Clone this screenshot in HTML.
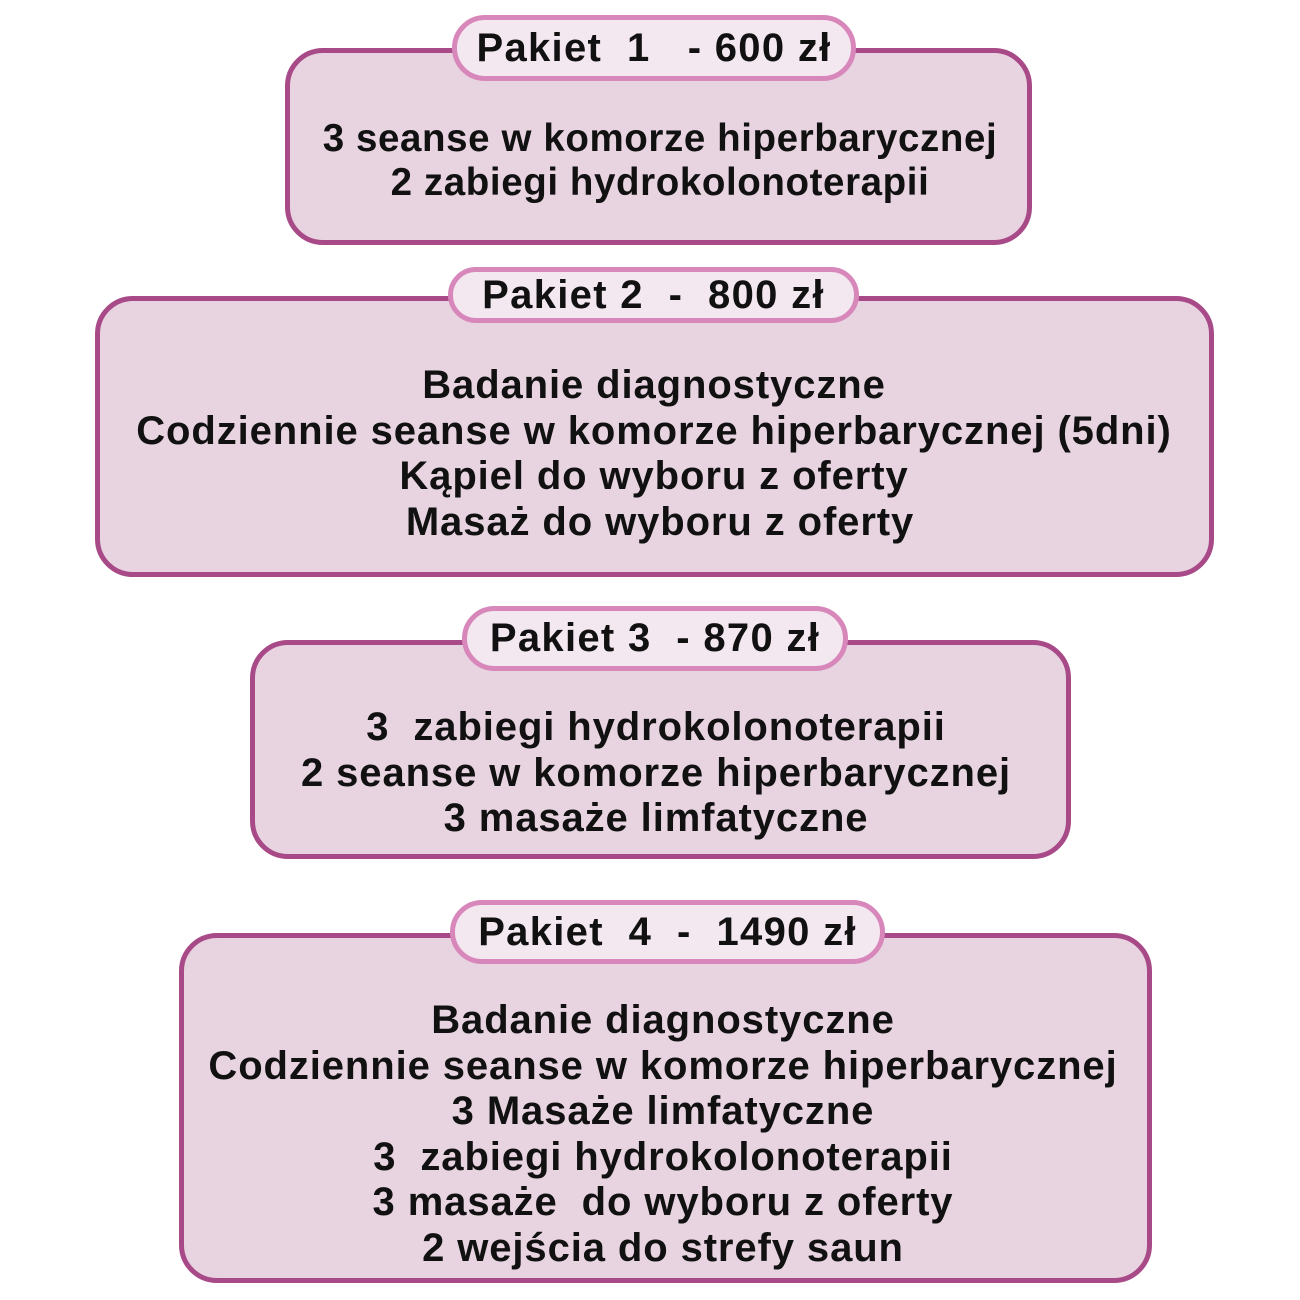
<!DOCTYPE html>
<html><head><meta charset="utf-8"><style>
body{margin:0;width:1300px;height:1300px;background:#fff;position:relative;font-family:"Liberation Sans",sans-serif;font-weight:bold;color:#111;overflow:hidden}
.box{position:absolute;box-sizing:border-box;background:#e8d4e1;border:5px solid #a84a88;border-radius:38px}
.pill{position:absolute;box-sizing:border-box;background:#f3e7f0;border:5px solid #d887bb;border-radius:34px;font-size:40px;letter-spacing:1.3px;text-align:center;display:flex;align-items:center;justify-content:center;white-space:pre}
.t{position:absolute;left:0;width:1300px;text-align:center;font-size:40px;letter-spacing:0.9px;line-height:45.5px;white-space:pre}
</style></head><body>
<div class="box" style="left:285px;top:48px;width:747px;height:197px"></div>
<div class="pill" style="left:452px;top:15px;width:404px;height:66px">Pakiet  1   - 600 zł</div>
<div class="t" style="left:10px;top:117px;font-size:38.5px;letter-spacing:0.6px;line-height:44px">3 seanse w komorze hiperbarycznej
2 zabiegi hydrokolonoterapii</div>

<div class="box" style="left:95px;top:296px;width:1119px;height:281px"></div>
<div class="pill" style="left:448px;top:267px;width:411px;height:56px">Pakiet 2  -  800 zł</div>
<div class="t" style="left:4px;top:363px">Badanie diagnostyczne
Codziennie seanse w komorze hiperbarycznej (5dni)
Kąpiel do wyboru z oferty
 Masaż do wyboru z oferty</div>

<div class="box" style="left:250px;top:640px;width:821px;height:219px"></div>
<div class="pill" style="left:462px;top:606px;width:386px;height:65px">Pakiet 3  - 870 zł</div>
<div class="t" style="left:6px;top:705px">3  zabiegi hydrokolonoterapii
2 seanse w komorze hiperbarycznej
3 masaże limfatyczne</div>

<div class="box" style="left:179px;top:933px;width:973px;height:350px"></div>
<div class="pill" style="left:450px;top:900px;width:435px;height:64px">Pakiet  4  -  1490 zł</div>
<div class="t" style="left:13px;top:998px">Badanie diagnostyczne
Codziennie seanse w komorze hiperbarycznej
3 Masaże limfatyczne
3  zabiegi hydrokolonoterapii
3 masaże  do wyboru z oferty
2 wejścia do strefy saun</div>
</body></html>
